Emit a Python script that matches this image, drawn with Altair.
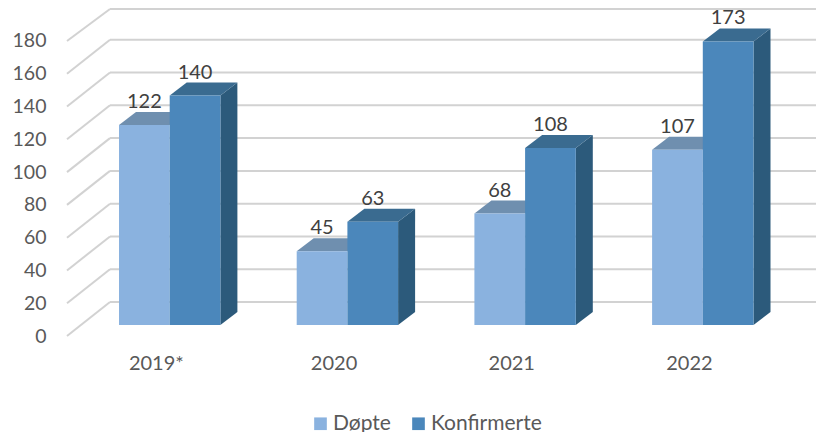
import altair as alt
import pandas as pd

years = ["2019*", "2020", "2021", "2022"]
dopte = [122, 45, 68, 107]
konfirmerte = [140, 63, 108, 173]
ticks = list(range(0, 181, 20))
series = ["Døpte", "Konfirmerte"]
front_colors = ["#8AB2DF", "#4B87BB"]
top_colors = {"Døpte": "#6F8FAF", "Konfirmerte": "#3A6B90"}
side_color = "#2C5A7B"

FONT = "Lato"
W, H = 749, 328
PX_SLOT = 177.7
PX_UNIT = 1.639
xu = lambda px: px / PX_SLOT
yu = lambda px: px / PX_UNIT
WALL_X, WALL_Y = xu(43), yu(34)
BAR_X, BAR_Y = xu(17), yu(13)
BAR_W = xu(50.7)
START = xu(52)
LIFT = yu(11)
LABEL_UP = yu(10)
x_dom = [0, W / PX_SLOT]
y_dom = [0, H / PX_UNIT]

x_labels = "[" + ",".join(f"'{y}'" for y in years) + "][datum.value-0.5]"
y_axis = alt.Axis(values=ticks, domain=False, ticks=False, grid=False, labelPadding=21, labelFontSize=19.5,
                  labelFont=FONT, labelColor="#595959", title=None)
x_axis = alt.Axis(values=[i + 0.5 for i in range(len(years))], domain=False, ticks=False, grid=False, labelPadding=17,
                  labelFontSize=20, labelFont=FONT, labelColor="#595959", labelExpr=x_labels, title=None)


def X(field):
    return alt.X(field, type="quantitative", scale=alt.Scale(domain=x_dom, nice=False, zero=False), axis=x_axis)


def Y(field):
    return alt.Y(field, type="quantitative", scale=alt.Scale(domain=y_dom, nice=False, zero=False), axis=y_axis)


front, tops, sides, labels = [], [], [], []
for s_i, (name, vals) in enumerate(zip(series, [dopte, konfirmerte])):
    for i, v in enumerate(vals):
        L = i + START + s_i * BAR_W
        R = L + BAR_W
        T = v + LIFT
        front.append({"s": name, "x": L, "x2": R, "y": LIFT, "y2": T})
        labels.append({"x": (L + R) / 2, "y": T + BAR_Y + LABEL_UP, "t": str(v)})
        face = f"{name}{i}"
        for px, a, b in [(L, T, T), (L + BAR_X, T + BAR_Y, T), (R, T + BAR_Y, T), (R + BAR_X, T + BAR_Y, T + BAR_Y)]:
            tops.append({"s": name, "face": face, "x": px, "y": a, "y2": b})
        if name == "Konfirmerte":
            sides.append({"face": face, "x": R, "y": T, "y2": LIFT})
            sides.append({"face": face, "x": R + BAR_X, "y": T + BAR_Y, "y2": LIFT + BAR_Y})

grid = pd.DataFrame({"t": ticks})
grid["x0"] = 0.0
grid["xw"] = WALL_X
grid["xe"] = len(years) + WALL_X + xu(2)
# the top wall line would fall just above the drawing surface: keep it inside
grid["yw"] = (grid["t"] + WALL_Y).clip(upper=y_dom[1] - yu(1))

wall = alt.Chart(grid).mark_rule(color="#D2D2D2", strokeWidth=2).encode(
    x=X("xw"), x2="xe", y=Y("yw"))
diag = alt.Chart(grid).mark_rule(color="#D2D2D2", strokeWidth=2).encode(
    x=X("x0"), x2="xw", y=Y("t"), y2="yw")

top_d = alt.Chart(pd.DataFrame([r for r in tops if r["s"] == "Døpte"])).mark_area(
    color=top_colors["Døpte"], orient="vertical").encode(x=X("x"), y=Y("y"), y2="y2", detail="face:N")
side_k = alt.Chart(pd.DataFrame(sides)).mark_area(color=side_color, orient="vertical").encode(
    x=X("x"), y=Y("y"), y2="y2", detail="face:N")
top_k = alt.Chart(pd.DataFrame([r for r in tops if r["s"] == "Konfirmerte"])).mark_area(
    color=top_colors["Konfirmerte"], orient="vertical").encode(x=X("x"), y=Y("y"), y2="y2", detail="face:N")
bars = alt.Chart(pd.DataFrame(front)).mark_rect().encode(
    x=X("x"), x2="x2", y=Y("y"), y2="y2",
    color=alt.Color("s:N", scale=alt.Scale(domain=series, range=front_colors),
                    legend=alt.Legend(title=None, orient="none", legendX=243, legendY=405, direction="horizontal",
                                      symbolType="square", symbolSize=160, symbolStrokeWidth=0, labelFont=FONT,
                                      labelFontSize=21, labelColor="#595959", padding=0, columnPadding=17,
                                      labelOffset=2)),
    order=alt.Order("s:N"))
text = alt.Chart(pd.DataFrame(labels)).mark_text(font=FONT, fontSize=20, color="#404040", baseline="middle").encode(
    x=X("x"), y=Y("y"), text="t:N")

chart = alt.layer(wall, diag, top_d, side_k, top_k, bars, text).properties(
    width=W, height=H, autosize=alt.AutoSizeParams(type="none"),
    padding={"left": 59, "top": 0, "right": 0, "bottom": 96},
    background="white").configure_view(stroke=None)

chart.save("out.html", embed_options={"renderer": "svg", "actions": False})
